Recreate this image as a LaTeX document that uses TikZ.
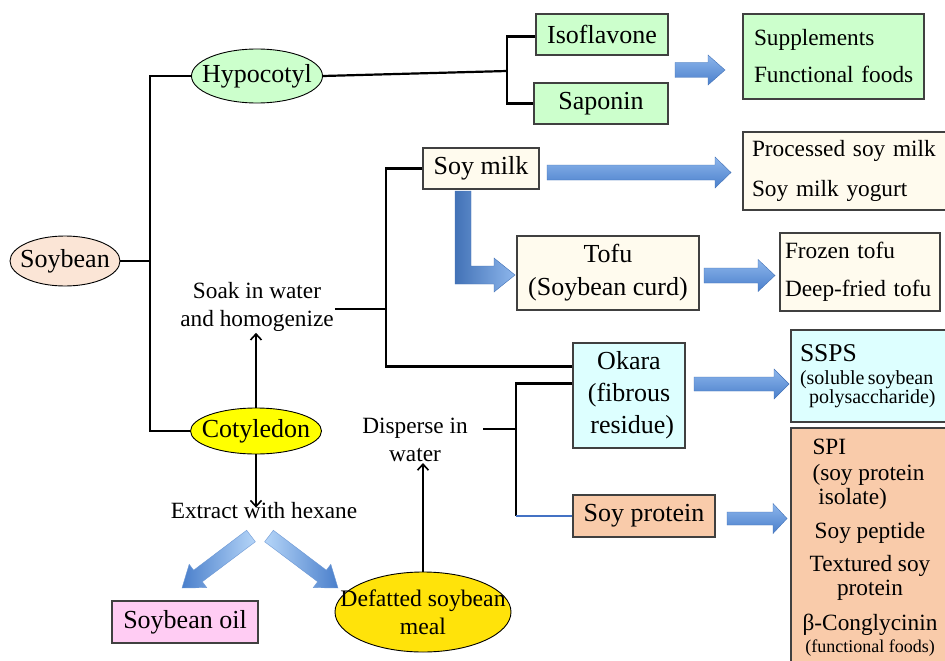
\documentclass[tikz,border=0pt]{standalone}
\usepackage{fontspec}
\setmainfont{Liberation Serif}
\usetikzlibrary{calc,shapes.geometric,arrows.meta}
\definecolor{boxgray}{HTML}{404040}
\definecolor{lgreen}{HTML}{CCFFCC}
\definecolor{peach}{HTML}{FBE5D6}
\definecolor{cream}{HTML}{FFFBEE}
\definecolor{lcyan}{HTML}{DDFFFF}
\definecolor{orangeb}{HTML}{F9CBAA}
\definecolor{yel}{HTML}{FFFF00}
\definecolor{yel2}{HTML}{FFE30A}
\definecolor{pinkb}{HTML}{FFCCF3}
\definecolor{bdark}{HTML}{4A7FCB}
\definecolor{blight}{HTML}{8DB6EC}
\definecolor{bpale}{HTML}{B5D5F8}
\definecolor{bline}{HTML}{4472C4}
\newcommand{\fbig}{\fontsize{26}{31}\selectfont}
\newcommand{\fmid}{\fontsize{23.3}{28}\selectfont}
\newcommand{\blockarr}[6]{%
  \coordinate (tmpH) at ($(#3)!#6!(#2)$);
  \shade[#1] ($(#2)!#4!90:(#3)$) -- ($(tmpH)!#4!90:(#3)$) -- ($(tmpH)!#5!90:(#3)$)
    -- (#3) -- ($(tmpH)!#5!-90:(#3)$) -- ($(tmpH)!#4!-90:(#3)$) -- ($(#2)!#4!-90:(#3)$) -- cycle;
}
\tikzset{
  box/.style={draw=boxgray, line width=1.2pt, rectangle, inner sep=0pt, align=center},
  ell/.style={draw=black, line width=0.9pt, ellipse, inner sep=0pt},
  conn/.style={line width=2.2pt},
  thinarr/.style={line width=1.6pt, -{Straight Barb[length=6pt,width=11pt,line width=1.6pt]}},
  hshade/.style={top color=blight, bottom color=bdark, draw=bdark!90!black, line width=0.4pt},
}
\begin{document}
\begin{tikzpicture}[x=1pt,y=-1pt]
\useasboundingbox[fill=white] (0,0) rectangle (945,661);

% ellipses
\node[ell, fill=peach, minimum width=110pt, minimum height=50pt, font=\fbig] (soybean) at (65,261) {\makebox[40pt]{Soybean}};
\node[ell, fill=lgreen, minimum width=131pt, minimum height=54pt, font=\fbig] (hypo) at (257,76) {\makebox[50pt]{Hypocotyl}};
\node[ell, fill=yel, minimum width=131pt, minimum height=46pt, font=\fbig] (coty) at (256,431) {\makebox[50pt]{Cotyledon}};
\node[ell, fill=yel2, minimum width=176pt, minimum height=80pt, font=\fontsize{23.7}{28}\selectfont] (defat) at (423,612)
  {\makebox[60pt]{\parbox{170pt}{\centering Defatted soybean\\meal}}};

% boxes
\node[box, fill=lgreen, minimum width=132pt, minimum height=41pt, font=\fbig] (iso) at (602,34.5) {Isoflavone};
\node[box, fill=lgreen, minimum width=134pt, minimum height=41pt, font=\fbig] (sap) at (601,103.5) {Saponin};
\node[box, fill=lgreen, minimum width=181pt, minimum height=85pt, inner xsep=11pt, text width=159pt, align=left, font=\fontsize{23.3}{37}\selectfont] (supp) at (833.5,56.5) {Supplements\\\makebox[0pt][l]{Functional foods}};
\node[box, fill=cream, minimum width=116pt, minimum height=41pt, font=\fbig] (milk) at (481,168.5) {Soy milk};
\node[box, fill=cream, minimum width=206pt, minimum height=78pt, inner xsep=9pt, text width=188pt, align=left, font=\fontsize{23.3}{40}\selectfont] (proc) at (846,171) {Processed soy milk\\Soy milk yogurt};
\node[box, fill=cream, minimum width=182pt, minimum height=74pt, font=\fontsize{26}{33}\selectfont] (tofu) at (608,273) {Tofu\\(Soybean curd)};
\node[box, fill=cream, minimum width=160pt, minimum height=78pt, inner xsep=5pt, text width=150pt, align=left, font=\fontsize{23.3}{38}\selectfont] (frozen) at (860,272) {Frozen tofu\\Deep-fried tofu};
\node[box, fill=lcyan, minimum width=112pt, minimum height=105pt, font=\fontsize{26}{32}\selectfont] (okara) at (629,395.5) {Okara\\(fibrous\\\ residue)};
\node[box, fill=lcyan, minimum width=158pt, minimum height=92pt, inner xsep=9pt, text width=140pt, align=left] (ssps) at (870,376)
  {{\fontsize{25.6}{28}\selectfont SSPS}\\[-2pt]{\fontsize{20}{25}\selectfont (soluble soybean\\\hspace*{9pt}polysaccharide)}};
\node[box, fill=orangeb, minimum width=142pt, minimum height=42pt, font=\fbig] (prot) at (644,516) {Soy protein};
\node[box, fill=orangeb, minimum width=158pt, minimum height=240pt, font=\fontsize{23.3}{24}\selectfont] (spi) at (870,548)
  {\makebox[115pt][l]{SPI}\\[2pt]\makebox[115pt][l]{(soy protein}\\\makebox[115pt][l]{\ isolate)}\\[10pt]
   Soy peptide\\[9pt]Textured soy\\protein\\[11pt]β-Conglycinin\\[-2pt]{\fontsize{18}{22}\selectfont (functional foods)}};
\node[box, fill=pinkb, minimum width=146pt, minimum height=42pt, font=\fbig] (oil) at (185,622) {Soybean oil};

% plain texts
\node[font=\fmid, align=center, inner sep=1pt] (soak) at (257,307) {Soak in water\\and homogenize};
\node[font=\fmid, align=center, inner sep=1pt] (disp) at (415,440) {Disperse in\\water};
\node[font=\fmid, inner sep=1pt] (extr) at (264,511) {Extract with hexane};

% coordinates for junctions
\coordinate (trunk) at (150,261);
\coordinate (hb) at (507,71);
\coordinate (sb) at (386,309);
\coordinate (dl) at (483,429);
\coordinate (db) at (516,429);

% black connectors
\draw[conn] (soybean.east) -- (soybean.east -| trunk);
\draw[conn] (hypo.west) -- (hypo.west -| trunk) |- (coty.west);
\draw[conn] (hypo.east) -- (hb);
\draw[conn] ([yshift=-2pt]iso.west) -| (hb) |- (sap.west);
\draw[conn] (soak.east |- sb) -- (sb);
\draw[conn] (milk.west) -| (sb) |- ([yshift=-24pt]okara.north west);
\draw[conn] (dl) -- (db);
\draw[conn] ([yshift=-41pt]okara.north west) -| (db) -- (db |- prot.west);
\draw[line width=1.3pt, bline] (db |- prot.west) -- (prot.west);

% thin arrows
\draw[thinarr] (coty.north) -- (coty.north |- soak.south);
\draw[thinarr] (coty.south) -- ([yshift=-6pt]coty.south |- extr.north);
\draw[thinarr] (defat.north) -- (defat.north |- disp.south);

% block arrows
\coordinate (a1s) at (675,70); \coordinate (a1e) at (725,70);
\blockarr{hshade}{a1s}{a1e}{7.5pt}{15pt}{17pt}
\coordinate (a2s) at (547,172.5); \coordinate (a2e) at (731,172.5);
\blockarr{hshade}{a2s}{a2e}{7.5pt}{15.5pt}{16pt}
\coordinate (a4s) at (704,275.5); \coordinate (a4e) at (775,275.5);
\blockarr{hshade}{a4s}{a4e}{7.5pt}{16pt}{17pt}
\coordinate (a5s) at (694,384); \coordinate (a5e) at (789,384);
\blockarr{hshade}{a5s}{a5e}{7pt}{15pt}{15pt}
\coordinate (a6s) at (727,518.5); \coordinate (a6e) at (787,518.5);
\blockarr{hshade}{a6s}{a6e}{6.5pt}{15pt}{14pt}
% L-shaped arrow from soy milk to tofu
\shade[left color=bdark!90!black, right color=blight, draw=bdark!90!black, line width=0.4pt]
  (455,191) -- (471,191) -- (471,266) -- (494,266) -- (494,258) -- (515,275)
  -- (494,292) -- (494,284) -- (455,284) -- cycle;
% diagonal arrows
\coordinate (d1s) at (251,536); \coordinate (d1e) at (182,588);
\blockarr{left color=bdark, right color=bpale, draw=bdark!80, line width=0.4pt}{d1s}{d1e}{7.2pt}{14.6pt}{20pt}
\coordinate (d2s) at (269,536); \coordinate (d2e) at (338,588);
\blockarr{left color=bpale, right color=bdark, draw=bdark!80, line width=0.4pt}{d2s}{d2e}{7.2pt}{14.6pt}{20pt}
\end{tikzpicture}
\end{document}
